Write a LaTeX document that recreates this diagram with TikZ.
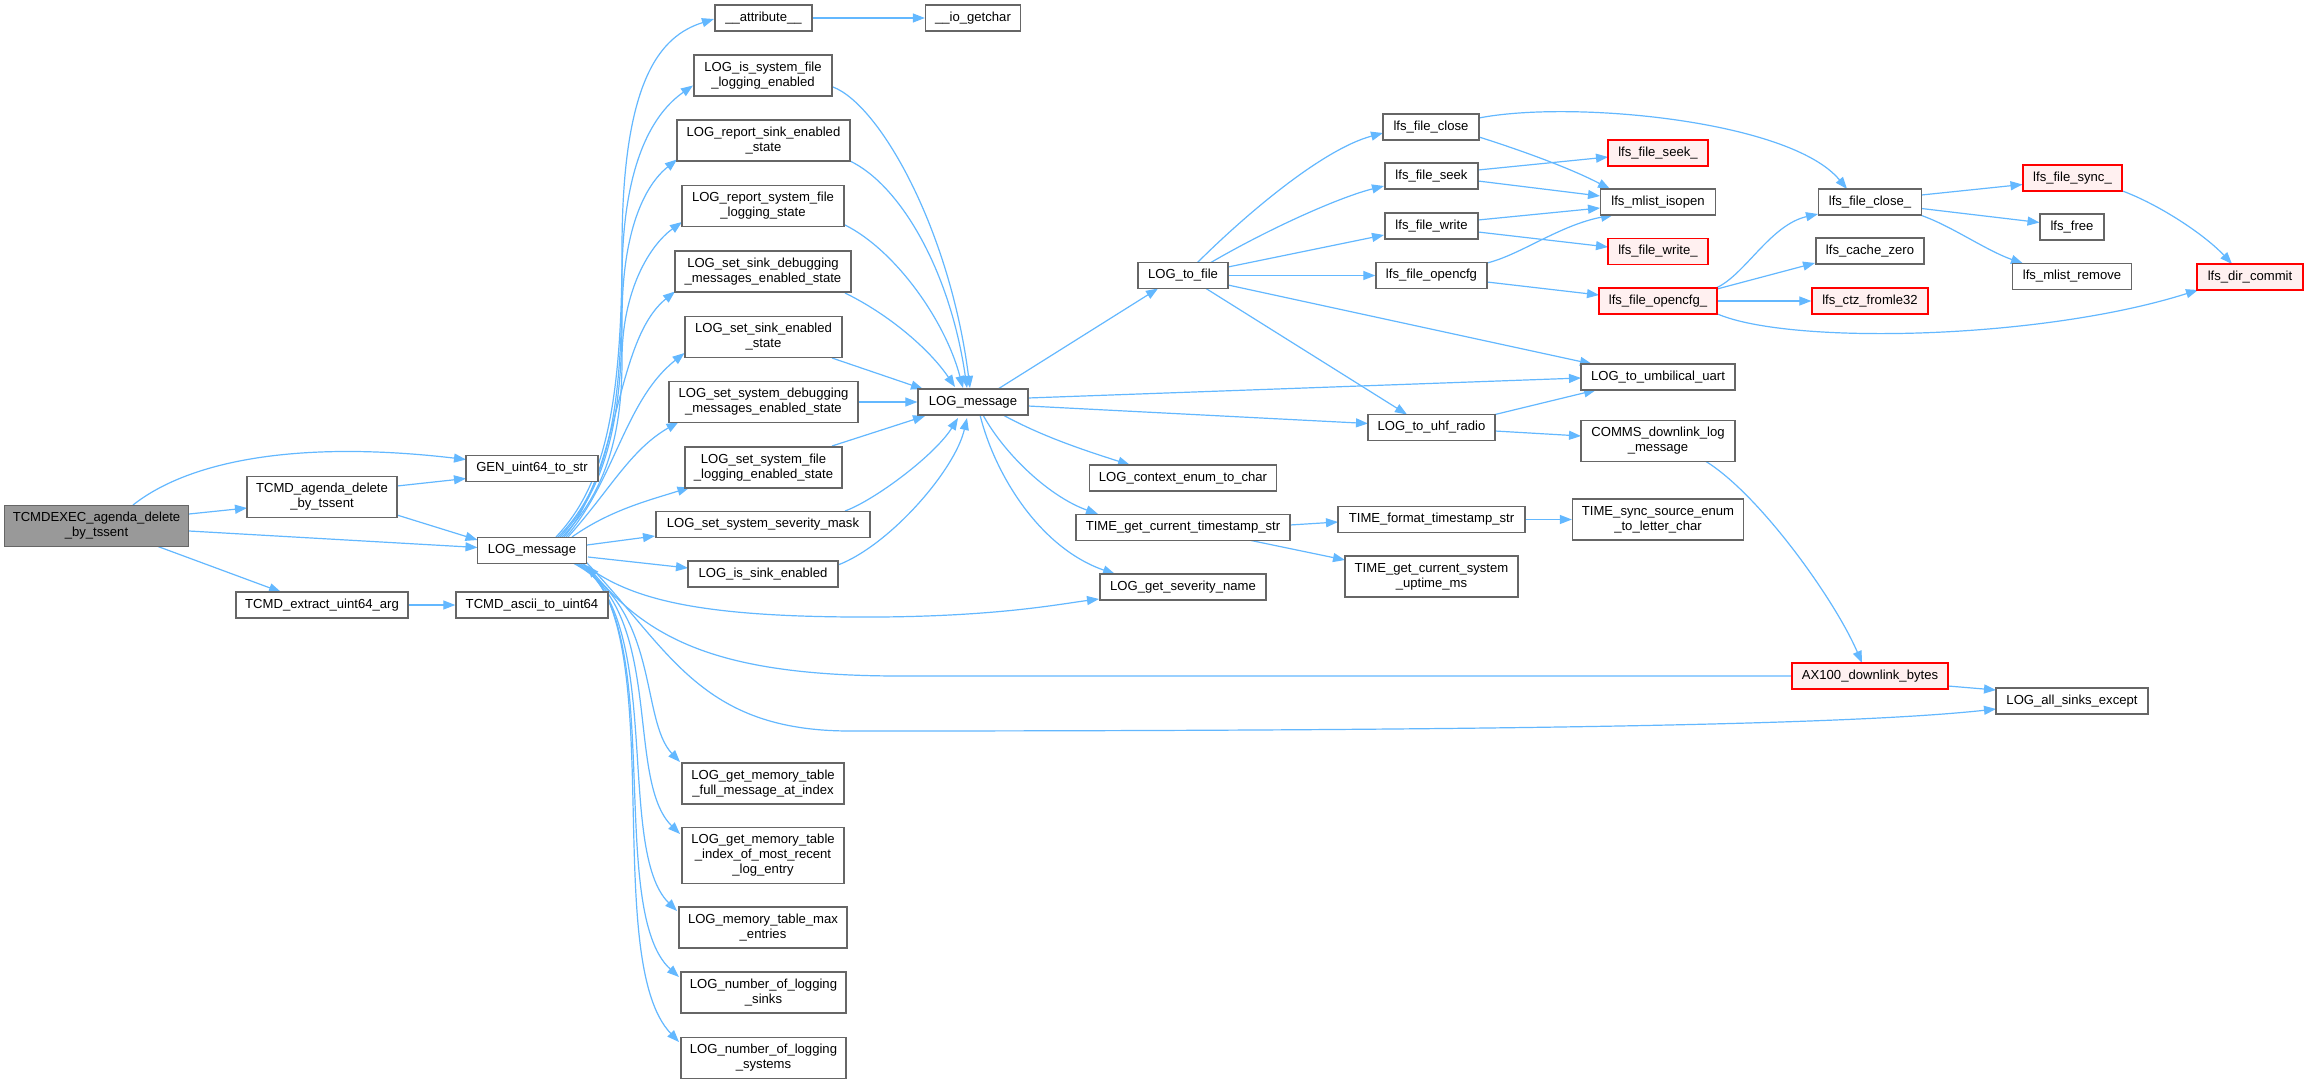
\documentclass[tikz,border=0pt]{standalone}
\usepackage{fontspec}
\setmainfont{Liberation Sans}
\usetikzlibrary{arrows.meta,calc}
\pgfdeclarelayer{bg}
\pgfsetlayers{bg,main}
\definecolor{edgeblue}{HTML}{63B8FF}
\definecolor{nodegray}{HTML}{666666}
\definecolor{redfill}{HTML}{FFF0F0}
\definecolor{hlfill}{HTML}{999999}
\newcommand{\dxfont}{\fontsize{13.1}{15}\selectfont}
\tikzset{
 fn/.style={draw=nodegray, fill=white, line width=1.3pt, inner sep=0pt, align=center, font=\dxfont, text=black},
 fnred/.style={fn, draw=red, fill=redfill},
 fnhl/.style={fn, fill=hlfill},
 call/.style={draw=edgeblue, line width=1.2pt, -{Triangle[length=12pt,width=9pt]}},
}
\begin{document}
\begin{tikzpicture}[x=1pt,y=-1pt]
\useasboundingbox (0,0) rectangle (2308,1084);
% column 1-2
\node[fnhl, minimum width=184pt, minimum height=41pt] (exec) at (96.5,526) {TCMDEXEC\_agenda\_delete\\\_by\_tssent};
\node[fn, minimum width=150pt, minimum height=41pt] (tcmdagenda) at (322,497) {TCMD\_agenda\_delete\\\_by\_tssent};
\node[fn, minimum width=172pt, minimum height=26pt] (extract) at (322,605) {TCMD\_extract\_uint64\_arg};
\node[fn, minimum width=132pt, minimum height=26pt] (gen) at (532,468.5) {GEN\_uint64\_to\_str};
\node[fn, minimum width=109pt, minimum height=26pt] (logmsg1) at (532,550.5) {LOG\_message};
\node[fn, minimum width=152pt, minimum height=26pt] (ascii) at (532,605) {TCMD\_ascii\_to\_uint64};
% column 3
\node[fn, minimum width=97pt, minimum height=26pt] (attr) at (763.5,18) {\_\_attribute\_\_};
\node[fn, minimum width=138pt, minimum height=41pt] (issys) at (763,75.5) {LOG\_is\_system\_file\\\_logging\_enabled};
\node[fn, minimum width=173pt, minimum height=41pt] (repsink) at (763.5,140.5) {LOG\_report\_sink\_enabled\\\_state};
\node[fn, minimum width=162pt, minimum height=41pt] (repsys) at (763,206) {LOG\_report\_system\_file\\\_logging\_state};
\node[fn, minimum width=176pt, minimum height=41pt] (setsinkdbg) at (763,271.5) {LOG\_set\_sink\_debugging\\\_messages\_enabled\_state};
\node[fn, minimum width=157pt, minimum height=41pt] (setsink) at (763.5,337) {LOG\_set\_sink\_enabled\\\_state};
\node[fn, minimum width=189pt, minimum height=41pt] (setsysdbg) at (763.5,402) {LOG\_set\_system\_debugging\\\_messages\_enabled\_state};
\node[fn, minimum width=157pt, minimum height=41pt] (setsysfile) at (763.5,467.5) {LOG\_set\_system\_file\\\_logging\_enabled\_state};
\node[fn, minimum width=214pt, minimum height=26pt] (sevmask) at (763,524.5) {LOG\_set\_system\_severity\_mask};
\node[fn, minimum width=150pt, minimum height=26pt] (issink) at (763,574) {LOG\_is\_sink\_enabled};
\node[fn, minimum width=162pt, minimum height=41pt] (memfull) at (763,783.5) {LOG\_get\_memory\_table\\\_full\_message\_at\_index};
\node[fn, minimum width=162pt, minimum height=56pt] (memidx) at (763,855.5) {LOG\_get\_memory\_table\\\_index\_of\_most\_recent\\\_log\_entry};
\node[fn, minimum width=168pt, minimum height=41pt] (memmax) at (763,927.5) {LOG\_memory\_table\_max\\\_entries};
\node[fn, minimum width=165pt, minimum height=41pt] (numsinks) at (763.5,992.5) {LOG\_number\_of\_logging\\\_sinks};
\node[fn, minimum width=165pt, minimum height=41pt] (numsys) at (763.5,1058) {LOG\_number\_of\_logging\\\_systems};
% column 4
\node[fn, minimum width=95pt, minimum height=26pt] (iogetchar) at (973,18) {\_\_io\_getchar};
\node[fn, minimum width=110pt, minimum height=26pt] (logmsg2) at (973,402) {LOG\_message};
% column 5
\node[fn, minimum width=90pt, minimum height=26pt] (tofile) at (1183,275.5) {LOG\_to\_file};
\node[fn, minimum width=187pt, minimum height=26pt] (ctx) at (1183,478) {LOG\_context\_enum\_to\_char};
\node[fn, minimum width=214pt, minimum height=26pt] (tsstr) at (1183,527.5) {TIME\_get\_current\_timestamp\_str};
\node[fn, minimum width=166pt, minimum height=26pt] (sevname) at (1183,587) {LOG\_get\_severity\_name};
% column 6
\node[fn, minimum width=96pt, minimum height=26pt] (fclose) at (1431,127) {lfs\_file\_close};
\node[fn, minimum width=93pt, minimum height=26pt] (fseek) at (1431.5,176) {lfs\_file\_seek};
\node[fn, minimum width=93pt, minimum height=26pt] (fwrite) at (1431.5,226) {lfs\_file\_write};
\node[fn, minimum width=111pt, minimum height=26pt] (fopencfg) at (1431.5,275.5) {lfs\_file\_opencfg};
\node[fn, minimum width=127pt, minimum height=26pt] (uhf) at (1431.5,427.5) {LOG\_to\_uhf\_radio};
\node[fn, minimum width=187pt, minimum height=26pt] (tsfmt) at (1431.5,519.5) {TIME\_format\_timestamp\_str};
\node[fn, minimum width=173pt, minimum height=41pt] (uptime) at (1431.5,576.5) {TIME\_get\_current\_system\\\_uptime\_ms};
% column 7
\node[fnred, minimum width=100pt, minimum height=26pt] (fseekU) at (1658,153) {lfs\_file\_seek\_};
\node[fn, minimum width=115pt, minimum height=26pt] (isopen) at (1658,202) {lfs\_mlist\_isopen};
\node[fnred, minimum width=100pt, minimum height=26pt] (fwriteU) at (1658,251.5) {lfs\_file\_write\_};
\node[fnred, minimum width=118pt, minimum height=26pt] (fopencfgU) at (1658,301) {lfs\_file\_opencfg\_};
\node[fn, minimum width=154pt, minimum height=26pt] (uart) at (1658,377) {LOG\_to\_umbilical\_uart};
\node[fn, minimum width=154pt, minimum height=41pt] (comms) at (1658,441) {COMMS\_downlink\_log\\\_message};
\node[fn, minimum width=171pt, minimum height=41pt] (syncsrc) at (1658,519.5) {TIME\_sync\_source\_enum\\\_to\_letter\_char};
% column 8
\node[fn, minimum width=103pt, minimum height=26pt] (fcloseU) at (1870,202) {lfs\_file\_close\_};
\node[fn, minimum width=108pt, minimum height=26pt] (cachezero) at (1870,251) {lfs\_cache\_zero};
\node[fnred, minimum width=116pt, minimum height=26pt] (fromle) at (1870,301) {lfs\_ctz\_fromle32};
\node[fnred, minimum width=156pt, minimum height=26pt] (ax100) at (1870,676) {AX100\_downlink\_bytes};
% column 9-10
\node[fnred, minimum width=99pt, minimum height=26pt] (fsyncU) at (2072.5,178) {lfs\_file\_sync\_};
\node[fn, minimum width=64pt, minimum height=26pt] (lfsfree) at (2072,227) {lfs\_free};
\node[fn, minimum width=119pt, minimum height=26pt] (mlistremove) at (2072,276.5) {lfs\_mlist\_remove};
\node[fn, minimum width=152pt, minimum height=26pt] (allsinks) at (2072,701) {LOG\_all\_sinks\_except};
\node[fnred, minimum width=106pt, minimum height=26pt] (dircommit) at (2250,277) {lfs\_dir\_commit};

\begin{pgfonlayer}{bg}
\fill[white] (0,0) rectangle (2308,1084);
% ---- edges from exec
\draw[call] ($(exec.center)+(36.5,-21)$) .. controls (190,460) and (300,440) .. ($(gen.center)+(-66,-9)$);
\draw[call] ($(exec.center)+(92.5,-12)$) -- ($(tcmdagenda.center)+(-75,11)$);
\draw[call] ($(exec.center)+(92.5,5)$) -- ($(logmsg1.center)+(-54.5,-3)$);
\draw[call] ($(exec.center)+(61.5,20.5)$) -- ($(extract.center)+(-41,-13)$);
\draw[call] ($(tcmdagenda.center)+(75,-11)$) -- ($(gen.center)+(-66,10)$);
\draw[call] ($(tcmdagenda.center)+(75,18)$) -- ($(logmsg1.center)+(-54.5,-10.5)$);
\draw[call] (extract.east) -- (ascii.west);

% ---- fan from logmsg1 upwards
\draw[call] ($(logmsg1.center)+(24,-13.5)$) .. controls (600,490) and (622,420) .. (622,250) .. controls (622,80) and (660,36) .. ($(attr.center)+(-49.5,1)$);
\draw[call] ($(logmsg1.center)+(26,-13.5)$) .. controls (605,490) and (622,420) .. (622,280) .. controls (622,160) and (655,112) .. ($(issys.center)+(-70,10)$);
\draw[call] ($(logmsg1.center)+(28,-13.5)$) .. controls (605,490) and (622,420) .. (622,320) .. controls (622,230) and (645,185) .. ($(repsink.center)+(-86.5,19)$);
\draw[call] ($(logmsg1.center)+(30,-13.5)$) .. controls (608,490) and (622,430) .. (622,360) .. controls (622,290) and (650,245) .. ($(repsys.center)+(-81,16)$);
\draw[call] ($(logmsg1.center)+(32,-13.5)$) .. controls (620,470) and (615,340) .. ($(setsinkdbg.center)+(-88,20)$);
\draw[call] ($(logmsg1.center)+(34,-13.5)$) .. controls (615,480) and (625,400) .. ($(setsink.center)+(-79,16)$);
\draw[call] ($(logmsg1.center)+(36,-13.5)$) .. controls (610,490) and (630,450) .. ($(setsysdbg.center)+(-85,20)$);
\draw[call] ($(logmsg1.center)+(40,-13.5)$) .. controls (610,510) and (650,500) .. ($(setsysfile.center)+(-74,20)$);
\draw[call] ($(logmsg1.center)+(55,-5.5)$) -- ($(sevmask.center)+(-108,11.5)$);
\draw[call] ($(logmsg1.center)+(56,6.5)$) -- ($(issink.center)+(-75,-6)$);
% ---- fan from logmsg1 downwards
\draw[call] ($(logmsg1.center)+(42,13)$) .. controls (660,610) and (640,720) .. ($(memfull.center)+(-83,-21.5)$);
\draw[call] ($(logmsg1.center)+(44,13)$) .. controls (665,615) and (625,780) .. ($(memidx.center)+(-83,-21.5)$);
\draw[call] ($(logmsg1.center)+(46,13)$) .. controls (665,620) and (615,850) .. ($(memmax.center)+(-86,-16.5)$);
\draw[call] ($(logmsg1.center)+(48,13)$) .. controls (668,625) and (605,910) .. ($(numsinks.center)+(-84.5,-15.5)$);
\draw[call] ($(logmsg1.center)+(50,13)$) .. controls (670,630) and (600,960) .. ($(numsys.center)+(-84.5,-16)$);
\draw[call] ($(logmsg1.center)+(51,13)$) .. controls (630,600) and (700,618) .. (880,617) .. controls (1000,616) and (1060,604) .. ($(sevname.center)+(-84,12)$);
\draw[call] ($(logmsg1.center)+(54,11.5)$) .. controls (670,650) and (700,731) .. (850,731) .. controls (1500,731) and (1850,725) .. ($(allsinks.center)+(-76,8)$);
\draw[call] (ax100.west) -- (900,676) .. controls (720,676) and (650,640) .. ($(logmsg1.center)+(55,15)$);

% ---- into logmsg2
\draw[call] ($(issys.center)+(70,11.5)$) .. controls (880,105) and (950,230) .. ($(logmsg2.center)+(-3,-14)$);
\draw[call] ($(repsink.center)+(86.5,20.5)$) .. controls (900,185) and (950,270) .. ($(logmsg2.center)+(-6,-14)$);
\draw[call] ($(repsys.center)+(82,19)$) .. controls (895,250) and (945,320) .. ($(logmsg2.center)+(-10,-14)$);
\draw[call] ($(setsinkdbg.center)+(82,21.5)$) .. controls (890,315) and (930,350) .. ($(logmsg2.center)+(-18,-15)$);
\draw[call] ($(setsink.center)+(68.5,21)$) -- ($(logmsg2.center)+(-50,-13)$);
\draw[call] ($(setsysdbg.center)+(94.5,0)$) -- (logmsg2.west);
\draw[call] ($(setsysfile.center)+(68.5,-21.5)$) -- ($(logmsg2.center)+(-48,14)$);
\draw[call] ($(sevmask.center)+(82,-13.5)$) .. controls (875,500) and (935,455) .. ($(logmsg2.center)+(-15,16)$);
\draw[call] ($(issink.center)+(75,-9)$) .. controls (890,545) and (955,470) .. ($(logmsg2.center)+(-6,16)$);
\draw[call] (attr.east) -- (iogetchar.west);

% ---- from logmsg2
\draw[call] ($(logmsg2.center)+(25,-13)$) -- ($(tofile.center)+(-25,13)$);
\draw[call] ($(logmsg2.center)+(55,-4)$) -- ($(uart.center)+(-77,1)$);
\draw[call] ($(logmsg2.center)+(55,4)$) -- ($(uhf.center)+(-63.5,-4)$);
\draw[call] ($(logmsg2.center)+(30,13)$) .. controls (1045,438) and (1090,452) .. ($(ctx.center)+(-53,-13)$);
\draw[call] ($(logmsg2.center)+(10,13)$) .. controls (1005,455) and (1050,497) .. ($(tsstr.center)+(-85,-13.5)$);
\draw[call] ($(logmsg2.center)+(7,13)$) .. controls (995,475) and (1040,548) .. ($(sevname.center)+(-68,-13)$);

% ---- from tofile
\draw[call] ($(tofile.center)+(14,-12.5)$) .. controls (1240,220) and (1320,150) .. ($(fclose.center)+(-48,6)$);
\draw[call] ($(tofile.center)+(27,-12.5)$) .. controls (1270,228) and (1340,197) .. ($(fseek.center)+(-47.5,10)$);
\draw[call] ($(tofile.center)+(45,-8.5)$) -- ($(fwrite.center)+(-47.5,9)$);
\draw[call] (tofile.east) -- (fopencfg.west);
\draw[call] ($(tofile.center)+(45,9.5)$) -- ($(uart.center)+(-66,-13)$);
\draw[call] ($(tofile.center)+(23,13)$) -- ($(uhf.center)+(-24.5,-13)$);

% ---- lfs calls
\draw[call] ($(fclose.center)+(48,10)$) .. controls (1520,150) and (1570,168) .. ($(isopen.center)+(-48,-13)$);
\draw[call] ($(fclose.center)+(48,-9)$) .. controls (1570,100) and (1790,120) .. ($(fcloseU.center)+(-23,-13)$);
\draw[call] ($(fseek.center)+(46.5,-6)$) -- ($(fseekU.center)+(-50,4)$);
\draw[call] ($(fseek.center)+(46.5,5)$) -- ($(isopen.center)+(-58,-6)$);
\draw[call] ($(fwrite.center)+(46.5,-6)$) -- ($(isopen.center)+(-58,6)$);
\draw[call] ($(fwrite.center)+(46.5,6)$) -- ($(fwriteU.center)+(-50,-4.5)$);
\draw[call] ($(fopencfg.center)+(55.5,-12.5)$) .. controls (1520,255) and (1560,225) .. ($(isopen.center)+(-45,13)$);
\draw[call] ($(fopencfg.center)+(55.5,6.5)$) -- ($(fopencfgU.center)+(-59,-6)$);
\draw[call] ($(fopencfgU.center)+(58,-13)$) .. controls (1745,275) and (1770,225) .. ($(fcloseU.center)+(-52,12)$);
\draw[call] ($(fopencfgU.center)+(59,-12)$) -- ($(cachezero.center)+(-55,12)$);
\draw[call] (fopencfgU.east) -- (fromle.west);
\draw[call] ($(fopencfgU.center)+(59.5,13)$) .. controls (1790,345) and (2040,340) .. ($(dircommit.center)+(-52,13)$);
\draw[call] ($(fcloseU.center)+(51.5,-7)$) -- ($(fsyncU.center)+(-50,6.5)$);
\draw[call] ($(fcloseU.center)+(51.5,6.5)$) -- ($(lfsfree.center)+(-32.5,-4.5)$);
\draw[call] ($(fcloseU.center)+(50,13)$) .. controls (1950,225) and (1985,250) .. ($(mlistremove.center)+(-49,-13)$);
\draw[call] ($(fsyncU.center)+(50,13)$) .. controls (2160,205) and (2205,235) .. ($(dircommit.center)+(-18,-13)$);

% ---- radio / time
\draw[call] ($(uhf.center)+(61.5,-12.5)$) -- ($(uart.center)+(-62,13)$);
\draw[call] ($(uhf.center)+(63.5,3.5)$) -- ($(comms.center)+(-77,-5)$);
\draw[call] ($(comms.center)+(48,20.5)$) .. controls (1760,495) and (1835,600) .. ($(ax100.center)+(-8,-13)$);
\draw[call] ($(ax100.center)+(78,10)$) -- ($(allsinks.center)+(-76,-11)$);
\draw[call] ($(tsstr.center)+(107,-2.5)$) -- ($(tsfmt.center)+(-93.5,2.5)$);
\draw[call] ($(tsstr.center)+(68,13)$) -- ($(uptime.center)+(-86.5,-16.5)$);
\draw[call] (tsfmt.east) -- (syncsrc.west);
\end{pgfonlayer}
\end{tikzpicture}
\end{document}
